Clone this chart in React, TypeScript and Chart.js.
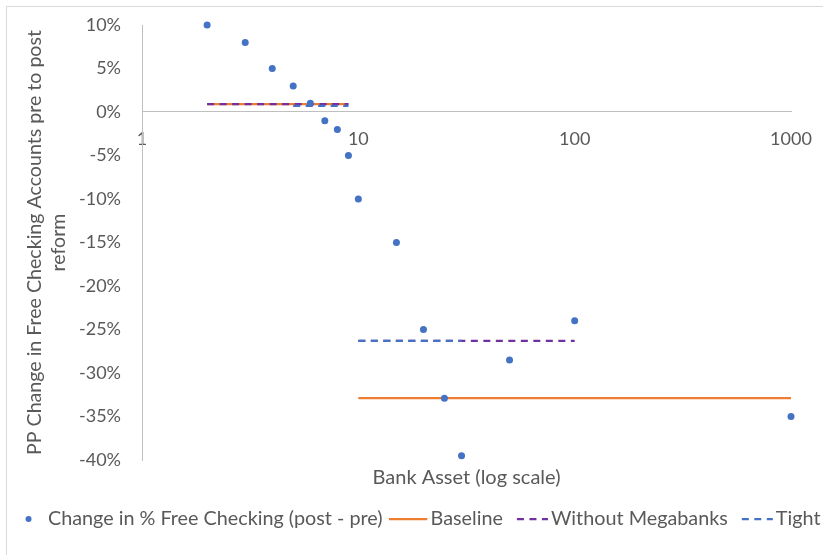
import React, { useEffect, useRef } from "react";
import { Chart, registerables } from "chart.js";

Chart.register(...registerables);

// ---- data ----
const assetSize = [2, 3, 4, 5, 6, 7, 8, 9, 10, 15, 20, 25, 30, 50, 100, 1000];
const changeFreeChecking = [10, 8, 5, 3, 1, -1, -2, -5, -10, -15, -25, -32.9, -39.5, -28.5, -24, -35];

const baselineStart = [2, 10];
const baselineEnd = [9, 1000];
const baselineLevel = [0.9, -32.9];

const megaStart = [2, 10];
const megaEnd = [9, 100];
const megaLevel = [0.9, -26.3];

const tightStart = [5, 10];
const tightEnd = [9, 30];
const tightLevel = [0.7, -26.3];

const xTickValues = [1, 10, 100, 1000];
const yTickMin = -40;
const yTickMax = 10;
const yTickStep = 5;

const seriesLabels = [
  "Change in % Free Checking (post - pre)",
  "Baseline",
  "Without Megabanks",
  "Tight",
];
const xTitle = "Bank Asset (log scale)";
const yTitle = ["PP Change in Free Checking Accounts pre to post", "reform"];

// ---- styles ----
const FONT = "Lato, 'Open Sans', sans-serif";
const TEXT = "#595959";
const AXIS = "#BFBFBF";
const BLUE = "#4472C4";
const ORANGE = "#ED7D31";
const PURPLE = "#7030A0";
const DASH = [7, 5.5];

function segments(starts: number[], ends: number[], levels: number[]) {
  const pts: { x: number; y: number | null }[] = [];
  starts.forEach((s, i) => {
    if (i > 0) pts.push({ x: s, y: null });
    pts.push({ x: s, y: levels[i] }, { x: ends[i], y: levels[i] });
  });
  return pts;
}

const borderPlugin = {
  id: "excelBorder",
  beforeDraw(chart: any) {
    const { ctx, width, height } = chart;
    ctx.save();
    ctx.fillStyle = "#ffffff";
    ctx.fillRect(0, 0, width, height);
    ctx.strokeStyle = "#D9D9D9";
    ctx.lineWidth = 1;
    ctx.strokeRect(6.5, 6.5, width + 20, height + 20);
    ctx.restore();
  },
};

const legendPlugin = {
  id: "excelLegend",
  afterDraw(chart: any) {
    const { ctx } = chart;
    const ds = chart.data.datasets as any[];
    ctx.save();
    ctx.font = `19.8px ${FONT}`;
    ctx.textBaseline = "middle";
    const widths = ds.map((d) => ctx.measureText(d.label).width);
    const lead = ds.map((d, i) => (i === 0 ? 22.4 : 41.7));
    const gap = 6.3;
    let total = 0;
    ds.forEach((d, i) => {
      total += (i === 0 ? 0 : gap) + lead[i] + widths[i];
    });
    const cy = 519;
    let g = 423 - total / 2;
    ds.forEach((d, i) => {
      if (i > 0) g += gap;
      const t = g + lead[i];
      if (i === 0) {
        ctx.fillStyle = d.backgroundColor;
        ctx.beginPath();
        ctx.arc(g + 3, cy, 3, 0, Math.PI * 2);
        ctx.fill();
      } else {
        ctx.strokeStyle = d.borderColor;
        ctx.lineWidth = 2.25;
        ctx.beginPath();
        if (d.borderDash && d.borderDash.length) {
          ctx.setLineDash(d.borderDash);
          ctx.moveTo(t - 34, cy);
          ctx.lineTo(t - 3, cy);
        } else {
          ctx.setLineDash([]);
          ctx.moveTo(t - 41.7, cy);
          ctx.lineTo(t - 3.3, cy);
        }
        ctx.stroke();
        ctx.setLineDash([]);
      }
      ctx.fillStyle = TEXT;
      ctx.textAlign = "left";
      ctx.fillText(d.label, t, cy);
      g = t + widths[i];
    });
    ctx.restore();
  },
};

export default function App() {
  const ref = useRef<HTMLCanvasElement | null>(null);

  useEffect(() => {
    if (!ref.current) return;
    const chart = new Chart(ref.current, {
      type: "scatter",
      data: {
        datasets: [
          {
            label: seriesLabels[0],
            data: assetSize.map((x, i) => ({ x, y: changeFreeChecking[i] })),
            backgroundColor: BLUE,
            borderColor: BLUE,
            pointRadius: 3.5,
            pointBorderWidth: 0,
            showLine: false,
            clip: false,
            order: 0,
          },
          {
            type: "line",
            label: seriesLabels[1],
            data: segments(baselineStart, baselineEnd, baselineLevel),
            borderColor: ORANGE,
            backgroundColor: ORANGE,
            borderWidth: 2.25,
            pointRadius: 0,
            fill: false,
            spanGaps: false,
            order: 3,
          },
          {
            type: "line",
            label: seriesLabels[2],
            data: segments(megaStart, megaEnd, megaLevel),
            borderColor: PURPLE,
            backgroundColor: PURPLE,
            borderWidth: 2.25,
            borderDash: DASH,
            pointRadius: 0,
            fill: false,
            spanGaps: false,
            order: 2,
          },
          {
            type: "line",
            label: seriesLabels[3],
            data: segments(tightStart, tightEnd, tightLevel),
            borderColor: BLUE,
            backgroundColor: BLUE,
            borderWidth: 2.25,
            borderDash: DASH,
            pointRadius: 0,
            fill: false,
            spanGaps: false,
            order: 1,
          },
        ] as any,
      },
      options: {
        responsive: false,
        animation: false,
        events: [],
        layout: { padding: { left: 0, right: 32, top: 25, bottom: 0 } },
        plugins: { legend: { display: false }, tooltip: { enabled: false } },
        scales: {
          x: {
            type: "logarithmic",
            position: { y: 0 } as any,
            min: 1,
            max: 1000,
            afterBuildTicks: (s: any) => {
              s.ticks = xTickValues.map((v) => ({ value: v }));
            },
            afterFit: (s: any) => {
              s.paddingLeft = 0;
              s.paddingRight = 0;
            },
            ticks: {
              color: TEXT,
              font: { family: FONT, size: 18 },
              padding: 16,
              autoSkip: false,
              maxRotation: 0,
              callback: (v: any) => String(v),
            },
            grid: { display: false, drawTicks: false },
            border: { display: true, color: AXIS, width: 1 },
          },
          x2: {
            type: "logarithmic",
            position: "bottom",
            min: 1,
            max: 1000,
            ticks: { display: false },
            grid: { display: false, drawTicks: false },
            border: { display: false },
            title: {
              display: true,
              text: xTitle,
              color: TEXT,
              font: { family: FONT, size: 20 },
              padding: { top: 0, bottom: 65 },
            },
            afterFit: (s: any) => {
              s.height = 95;
              s.paddingLeft = 0;
              s.paddingRight = 0;
            },
          },
          y: {
            type: "linear",
            position: "left",
            min: yTickMin,
            max: yTickMax,
            ticks: {
              stepSize: yTickStep,
              color: TEXT,
              font: { family: FONT, size: 18 },
              padding: 21,
              callback: (v: any) => `${v}%`,
            },
            grid: { display: false, drawTicks: false },
            border: { display: true, color: AXIS, width: 1 },
            title: {
              display: true,
              text: yTitle,
              color: TEXT,
              font: { family: FONT, size: 19.6, lineHeight: 1.22 },
              padding: { top: 23, bottom: 0 },
            },
            afterFit: (s: any) => {
              s.width = 142;
              s.paddingTop = 0;
              s.paddingBottom = 0;
            },
          },
        },
      } as any,
      plugins: [borderPlugin, legendPlugin],
    });
    return () => chart.destroy();
  }, []);

  return (
    <div style={{ position: "fixed", left: 0, top: 0, width: 823, height: 555 }}>
      <canvas ref={ref} width={823} height={555} style={{ width: 823, height: 555, display: "block" }} />
    </div>
  );
}
